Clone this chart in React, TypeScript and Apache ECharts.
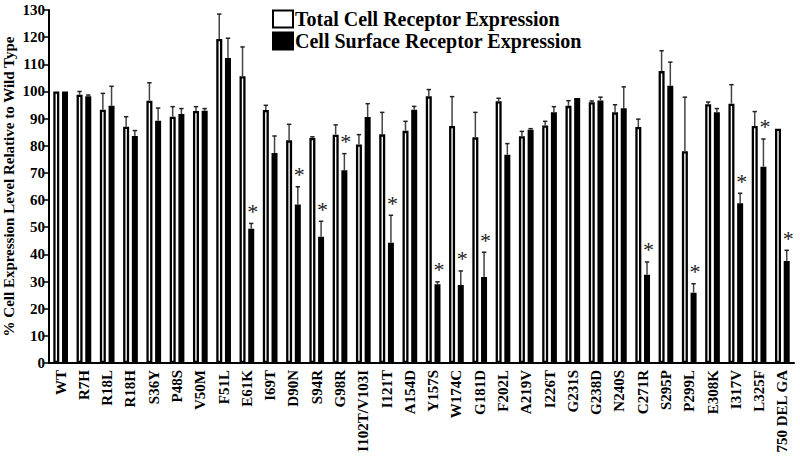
import React, { useEffect, useRef } from "react";
import * as echarts from "echarts";

const categories = ["WT","R7H","R18L","R18H","S36Y","P48S","V50M","F51L","E61K","I69T","D90N","S94R","G98R","I102T/V103I","I121T","A154D","Y157S","W174C","G181D","F202L","A219V","I226T","G231S","G238D","N240S","C271R","S295P","P299L","E308K","I317V","L325F","750 DEL GA"];

const totalValues = [100, 98.8, 93.3, 87.0, 96.6, 90.7, 92.8, 119.3, 105.6, 93.2, 82.0, 82.9, 84.1, 80.5, 84.2, 85.5, 98.2, 87.3, 83.1, 96.4, 83.5, 87.5, 94.7, 96.0, 92.3, 86.9, 107.5, 78.0, 95.3, 95.5, 87.3, 86.3];
const totalSD = [0, 1.2, 6.0, 3.7, 6.6, 3.7, 1.6, 9.2, 10.8, 1.7, 5.9, 0.4, 3.6, 3.6, 8.1, 3.5, 2.5, 10.8, 9.2, 1.1, 1.8, 1.5, 1.9, 0.5, 2.8, 2.9, 7.5, 19.9, 0.8, 7.0, 5.3, 0];

const surfaceValues = [100, 98.2, 94.7, 83.6, 89.2, 91.7, 92.9, 112.3, 49.4, 77.3, 58.4, 46.5, 71.0, 90.6, 44.3, 93.3, 29.0, 28.7, 31.7, 76.7, 85.9, 92.3, 97.6, 96.7, 93.8, 32.5, 102.1, 25.9, 92.3, 58.8, 72.3, 37.6];
const surfaceSD = [0, 0.5, 7.2, 2.0, 4.7, 2.0, 0.8, 7.3, 2.0, 6.3, 6.5, 5.7, 6.1, 4.9, 10.1, 1.2, 0.9, 5.2, 9.1, 4.1, 0.4, 2.1, 0, 1.2, 7.9, 4.7, 8.7, 3.3, 1.4, 3.7, 10.2, 3.9];

const significant = ["E61K","D90N","S94R","G98R","I121T","Y157S","W174C","G181D","C271R","P299L","I317V","L325F","750 DEL GA"];

const yTicks = { min: 0, max: 130, interval: 10 };

const FONT = "'Liberation Serif', 'Times New Roman', serif";

function errorSeries(name: string, values: number[], sds: number[], sign: number, marks: boolean) {
  const data = categories.map((c, i) => [i, values[i], values[i] + sds[i], sds[i], marks && significant.includes(c) ? 1 : 0]);
  return {
    type: "custom",
    name,
    z: 5,
    silent: true,
    data,
    renderItem: (params: any, api: any) => {
      const i = api.value(0);
      const m = api.value(1);
      const t = api.value(2);
      const sd = api.value(3);
      const sig = api.value(4);
      const band = api.size([1, 0])[0];
      const off = sign * band * 0.187;
      const p0 = api.coord([i, m]);
      const p1 = api.coord([i, t]);
      const x = p0[0] + off;
      const children: any[] = [];
      if (sd > 0.3) {
        children.push({ type: "line", shape: { x1: x, y1: p0[1], x2: x, y2: p1[1] }, style: { stroke: "#444", lineWidth: 1.5 } });
        children.push({ type: "line", shape: { x1: x - 2.2, y1: p1[1], x2: x + 2.2, y2: p1[1] }, style: { stroke: "#222", lineWidth: 1.5 } });
      }
      if (sig) {
        children.push({
          type: "text",
          x: x + 1.5,
          y: p1[1] - 1,
          style: { text: "*", fontSize: 22, fontFamily: FONT, fill: "#222", align: "center", verticalAlign: "bottom" },
        });
      }
      return { type: "group", children };
    },
  };
}

export default function App() {
  const ref = useRef<HTMLDivElement>(null);
  useEffect(() => {
    if (!ref.current) return;
    const chart = echarts.init(ref.current, null, { renderer: "svg" });
    chart.setOption({
      animation: false,
      backgroundColor: "#fff",
      textStyle: { fontFamily: FONT },
      legend: {
        data: ["Total Cell Receptor Expression", "Cell Surface Receptor Expression"],
        orient: "vertical",
        left: 267,
        top: 4,
        itemWidth: 20,
        itemHeight: 17,
        itemGap: 2,
        icon: "rect",
        textStyle: { fontFamily: FONT, fontWeight: "bold", fontSize: 20, color: "#000", padding: [0, 0, 0, -3] },
      },
      grid: { left: 49, right: 6, top: 10, bottom: 96, containLabel: false, outerBoundsMode: "none" },
      xAxis: {
        type: "category",
        data: categories,
        axisLine: { lineStyle: { color: "#000", width: 2 } },
        axisTick: { alignWithLabel: true, length: 4, lineStyle: { color: "#000", width: 1.5 } },
        axisLabel: { rotate: 90, interval: 0, margin: 7, color: "#000", fontFamily: FONT, fontWeight: "bold", fontSize: 15 },
      },
      yAxis: {
        type: "value",
        min: yTicks.min,
        max: yTicks.max,
        interval: yTicks.interval,
        name: "% Cell Expression Level Relative to Wild Type",
        nameLocation: "middle",
        nameGap: 33,
        nameMoveOverlap: false,
        nameTextStyle: { fontFamily: FONT, fontWeight: "bold", fontSize: 15, color: "#000" },
        axisLine: { show: true, lineStyle: { color: "#000", width: 2 } },
        axisTick: { show: true, length: 5, lineStyle: { color: "#000", width: 1.5 } },
        axisLabel: { margin: 4, color: "#000", fontFamily: FONT, fontWeight: "bold", fontSize: 15 },
        splitLine: { show: false },
      },
      series: [
        {
          name: "Total Cell Receptor Expression",
          type: "bar",
          data: totalValues,
          barWidth: 6,
          barGap: "45%",
          itemStyle: { color: "#fff", borderColor: "#000", borderWidth: 2.3 },
        },
        {
          name: "Cell Surface Receptor Expression",
          type: "bar",
          data: surfaceValues,
          barWidth: 6,
          itemStyle: { color: "#000", borderColor: "#000", borderWidth: 2.3 },
        },
        errorSeries("err-total", totalValues, totalSD, -1, false),
        errorSeries("err-surface", surfaceValues, surfaceSD, 1, true),
      ],
    });
    return () => chart.dispose();
  }, []);
  return <div ref={ref} style={{ width: 800, height: 459, position: "absolute", left: 0, top: 0 }} />;
}
